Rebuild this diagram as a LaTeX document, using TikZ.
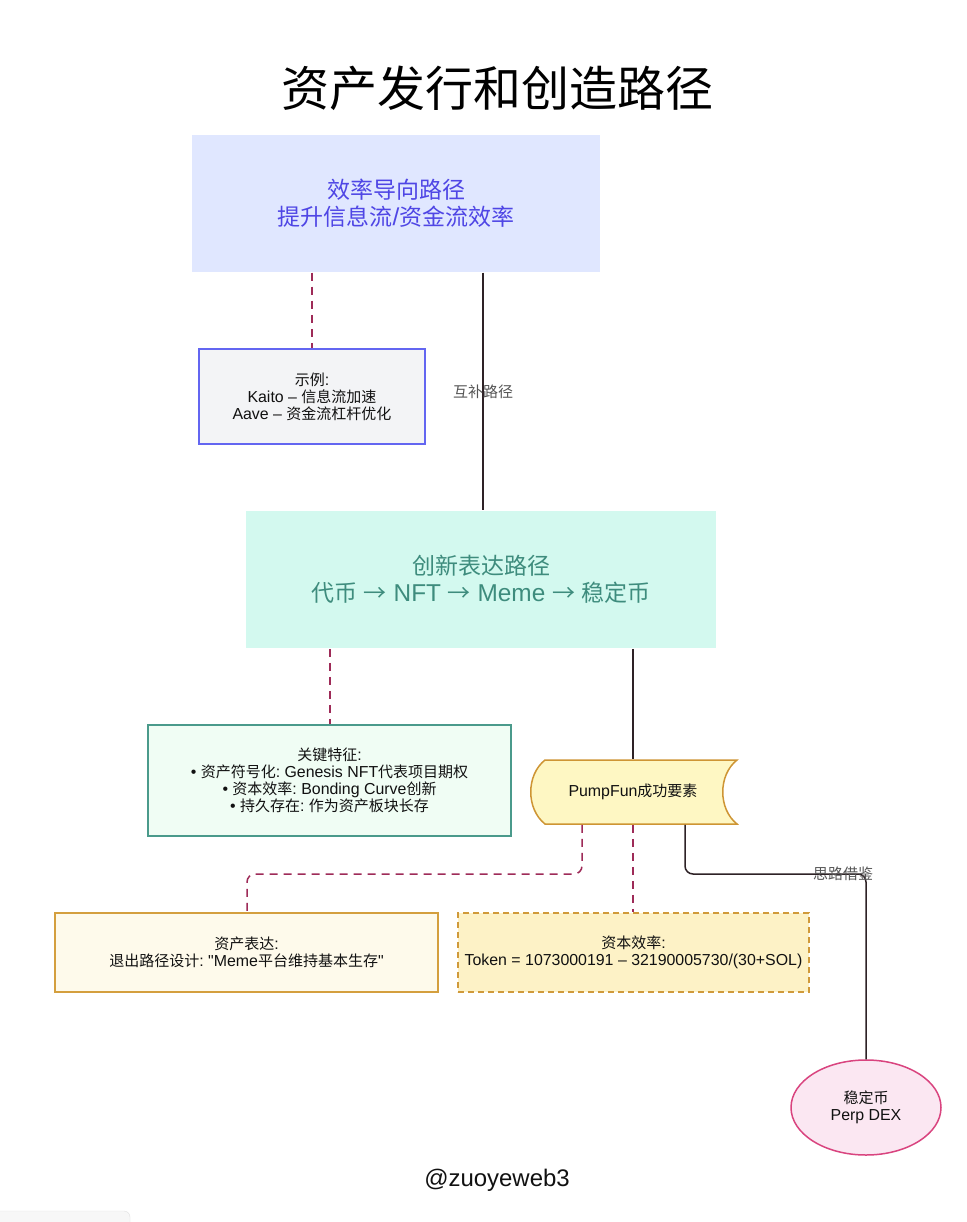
\documentclass[tikz,border=0pt]{standalone}
\usepackage{fontspec}
\setmainfont{Liberation Sans}[Ligatures=TeXOff,Scale=1.06]
\newfontfamily\cjkfont{Noto Sans CJK SC}[Ligatures=TeXOff]
\newfontfamily\latf{Liberation Sans}[Ligatures=TeXOff,Scale=1.06]
\XeTeXinterchartokenstate=1
\newXeTeXintercharclass\CJKcls
\newcount\cjkcnt
\cjkcnt="4E00
\loop\XeTeXcharclass\cjkcnt=\CJKcls\advance\cjkcnt by 1\relax\ifnum\cjkcnt<"A000\repeat
\XeTeXcharclass"2192=\CJKcls
\XeTeXinterchartoks 0 \CJKcls = {\cjkfont}
\XeTeXinterchartoks 4095 \CJKcls = {\cjkfont}
\XeTeXinterchartoks \CJKcls 0 = {\latf}
\XeTeXinterchartoks \CJKcls 4095 = {\latf}
\frenchspacing
\usetikzlibrary{shapes.geometric}
\definecolor{efffill}{HTML}{E0E7FF}
\definecolor{efftext}{HTML}{4F46E5}
\definecolor{exfill}{HTML}{F3F4F6}
\definecolor{exdraw}{HTML}{6366F1}
\definecolor{innfill}{HTML}{D3F9EF}
\definecolor{inntext}{HTML}{3E8C7D}
\definecolor{kffill}{HTML}{F0FDF4}
\definecolor{kfdraw}{HTML}{4A9A8B}
\definecolor{pumpfill}{HTML}{FEF7C3}
\definecolor{pumpdraw}{HTML}{CE9534}
\definecolor{exitfill}{HTML}{FEFAEB}
\definecolor{exitdraw}{HTML}{D49F3E}
\definecolor{capfill}{HTML}{FDF2C6}
\definecolor{capdraw}{HTML}{D09A3A}
\definecolor{ellfill}{HTML}{FBE7F2}
\definecolor{elldraw}{HTML}{D9447F}
\definecolor{dashc}{HTML}{9E2B58}
\definecolor{solc}{HTML}{2E2226}
\definecolor{lblc}{HTML}{555555}
\definecolor{txt}{HTML}{111111}
\begin{document}
\begin{tikzpicture}[x=1pt,y=-1pt,
  box/.style={rectangle, inner sep=0pt, align=center, line width=1.5pt},
  bigbox/.style={box, font=\fontsize{23}{27}\selectfont},
  smallbox/.style={box, text=txt, font=\fontsize{15}{17}\selectfont},
  dsh/.style={draw=dashc, line width=1.5pt, dash pattern=on 8pt off 6pt},
  sol/.style={draw=solc, line width=1.5pt},
  lbl/.style={font=\fontsize{15}{17}\selectfont, text=lblc, inner sep=1pt}]
\clip (0,0) rectangle (966,1222);
\fill[white] (0,0) rectangle (966,1222);
% bottom-left artifact
\draw[draw=black!12, fill=black!3, rounded corners=6pt] (-10,1211) rectangle (130,1250);

\node[font=\fontsize{48}{52}\selectfont, text=black] (title) at (497,88) {资产发行和创造路径};

\node[bigbox, fill=efffill, text=efftext, minimum width=408pt, minimum height=137pt] (eff) at (396,203.5) {效率导向路径\\提升信息流/资金流效率};
\node[smallbox, fill=exfill, draw=exdraw, minimum width=226pt, minimum height=95pt] (ex) at (312,396.5) {示例:\\Kaito – 信息流加速\\Aave – 资金流杠杆优化};
\node[bigbox, fill=innfill, text=inntext, minimum width=470pt, minimum height=137pt] (inn) at (481,579.5) {创新表达路径\\代币 → NFT → Meme → 稳定币};
\node[smallbox, fill=kffill, draw=kfdraw, minimum width=363pt, minimum height=111pt] (kf) at (329.5,780.5) {关键特征:\\• 资产符号化: Genesis NFT代表项目期权\\• 资本效率: Bonding Curve创新\\• 持久存在: 作为资产板块长存};

\filldraw[fill=pumpfill, draw=pumpdraw, line width=1.5pt] (545,760) -- (737,760) .. controls (718,775) and (718,809) .. (737,824) -- (545,824) .. controls (526,809) and (526,775) .. (545,760) -- cycle;
\node[smallbox, minimum width=206pt, minimum height=64pt] (pump) at (633,792) {PumpFun成功要素};

\node[smallbox, fill=exitfill, draw=exitdraw, minimum width=383pt, minimum height=79pt] (exitb) at (246.5,952.5) {资产表达:\\退出路径设计: "Meme平台维持基本生存"};
\node[smallbox, fill=capfill, draw=capdraw, dash pattern=on 6pt off 4pt, minimum width=351pt, minimum height=79pt] (capb) at (633.5,952.5) {资本效率:\\Token = 1073000191 – 32190005730/(30+SOL)};
\node[smallbox, ellipse, fill=ellfill, draw=elldraw, minimum width=150pt, minimum height=95pt] (ell) at (866,1107.5) {稳定币\\Perp DEX};

\node[font=\fontsize{22.6}{25}\selectfont, text=txt] (wm) at (497,1180) {@zuoyeweb3};

% connectors
\coordinate (cx1) at (483,0);
\coordinate (cx2) at (330,0);
\coordinate (cx3) at (247,0);
\coordinate (p1) at (582,0);
\coordinate (p2) at (685,0);
\coordinate (hy) at (0,874);
\draw[sol] (eff.south -| cx1) -- node[lbl] (lb1) {互补路径} (inn.north -| cx1);
\draw[dsh] (eff.south -| ex.north) -- (ex.north);
\draw[dsh] (inn.south -| cx2) -- (kf.north -| cx2);
\draw[sol] (inn.south -| pump.north) -- (pump.north);
\draw[dsh, rounded corners=8pt] (pump.south -| p1) -- (p1 |- hy) -- (cx3 |- hy) -- (exitb.north -| cx3);
\draw[dsh] (pump.south) -- (pump.south |- capb.north);
\draw[sol, rounded corners=8pt] (pump.south -| p2) -- (p2 |- hy) -- (ell.north |- hy) -- (ell.north);
\node[lbl] (lb2) at (843,874) {思路借鉴};
\end{tikzpicture}
\end{document}
